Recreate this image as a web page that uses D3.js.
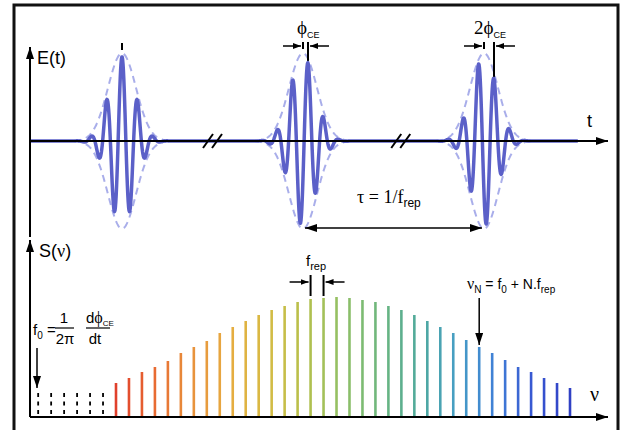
<!DOCTYPE html>
<html><head><meta charset="utf-8">
<script src="https://cdn.jsdelivr.net/npm/d3@7"></script>
<style>html,body{margin:0;padding:0;background:#fff}svg{display:block}</style>
</head><body>
<script>
// ---------- data ----------
const pulseTimes = [0, 1, 2];          // pulse centres in units of tau
const pulsePhaseSteps = [0, 1, 2];     // carrier-envelope phase in units of phi_CE
const breakTimes = [0.5, 1.54];        // axis break positions (tau units)
const carrierPeriod = 0.0856;          // tau units
const carrierWidth = 0.0707;           // gaussian sigma (tau units)
const envelopeWidth = 0.0774;          // dashed envelope sigma
const phaseShift = 0.0276;             // carrier shift per phi_CE (tau units)
const carrierAmp = 0.98, envelopeAmp = 1.02;

const combIndex = d3.range(0, 36);
const combValues = [34,39,45,50,56,64,70,76,84,90,96,102,107,111,115,118,119,120,119,117,115,111,107,102,96,90,84,77,70,64,57,50,45,39,34,29];
const hiddenComb = [-6,-5,-4,-3,-2,-1];
const hiddenValue = 24;
const combColors = ["#e0402c","#e86a32","#e8923c","#e6ac40","#d6bc44","#b4c04c","#90c066","#6cb67e","#50aa9c","#469ec4","#4080d6","#3858d2","#3040c4"];
const repArrowIdx = [15, 16];
const nuNIdx = 28;

// ---------- layout ----------
const W = 623, H = 430;
const axX = 30, topY = 141, botY = 417, arrowEnd = 608;
const svg = d3.select("body").append("svg").attr("width", W).attr("height", H);
const defs = svg.append("defs");
defs.append("marker").attr("id","ah").attr("viewBox","0 0 12 8").attr("refX",12).attr("refY",4)
  .attr("markerWidth",12).attr("markerHeight",8).attr("markerUnits","userSpaceOnUse").attr("orient","auto-start-reverse")
  .append("path").attr("d","M0,0L12,4L0,8Z").attr("fill","#000");
defs.append("marker").attr("id","sh").attr("viewBox","0 0 8 6").attr("refX",8).attr("refY",3)
  .attr("markerWidth",8).attr("markerHeight",6).attr("markerUnits","userSpaceOnUse").attr("orient","auto-start-reverse")
  .append("path").attr("d","M0,0L8,3L0,6Z").attr("fill","#000");

const SANS = "'Liberation Sans', Arial, sans-serif";
const SERIF = "'Liberation Serif', 'Times New Roman', serif";

// frame
svg.append("rect").attr("x",14).attr("y",5).attr("width",604).attr("height",450)
  .attr("fill","none").attr("stroke","#111").attr("stroke-width",3);

// ---------- top panel ----------
const xT = d3.scaleLinear().domain([0, 2]).range([122, 484]);
const yE = d3.scaleLinear().domain([-1, 1]).range([topY + 86, topY - 86]);
const gauss = (d, s) => Math.exp(-d*d/(2*s*s));
const field = t => d3.sum(pulseTimes, (tc, i) => carrierAmp * gauss(t - tc, carrierWidth) *
  Math.cos(2*Math.PI*(t - tc - pulsePhaseSteps[i]*phaseShift)/carrierPeriod));

const tSamples = d3.range(xT.invert(31), xT.invert(578), (xT.invert(1)-xT.invert(0))*0.4);
const line = d3.line().x(d => xT(d[0])).y(d => yE(d[1]));

// envelopes
pulseTimes.forEach(tc => {
  const ts = d3.range(tc - 0.33, tc + 0.33, 0.002);
  [1, -1].forEach(sg => {
    svg.append("path").attr("d", line(ts.map(t => [t, sg*envelopeAmp*gauss(t - tc, envelopeWidth)])))
      .attr("fill","none").attr("stroke","#a9aeea").attr("stroke-width",2).attr("stroke-dasharray","7,5");
  });
});
// carrier
svg.append("path").attr("d", line(tSamples.map(t => [t, field(t)])))
  .attr("fill","none").attr("stroke","#5b60c8").attr("stroke-width",3.5).attr("stroke-linejoin","round");

// axes
svg.append("line").attr("x1",axX).attr("y1",topY).attr("x2",arrowEnd).attr("y2",topY)
  .attr("stroke","#000").attr("stroke-width",2).attr("marker-end","url(#ah)");
svg.append("line").attr("x1",axX).attr("y1",237).attr("x2",axX).attr("y2",47)
  .attr("stroke","#000").attr("stroke-width",2).attr("marker-end","url(#ah)");
// breaks
breakTimes.forEach(bt => {
  const cx = xT(bt);
  [-4.5, 4.5].forEach(o => svg.append("line").attr("x1",cx+o-5).attr("y1",148).attr("x2",cx+o+5).attr("y2",134)
    .attr("stroke","#000").attr("stroke-width",2));
});
svg.append("text").attr("x",37).attr("y",64).attr("font-family",SANS).attr("font-size",18).text("E(t)");
svg.append("text").attr("x",587).attr("y",127).attr("font-family",SANS).attr("font-size",18).text("t");

// phase markers
const peakX = i => xT(pulseTimes[i] + pulsePhaseSteps[i]*phaseShift);
const peakY = i => yE(field(pulseTimes[i] + pulsePhaseSteps[i]*phaseShift));
svg.append("line").attr("x1",xT(pulseTimes[0])).attr("x2",xT(pulseTimes[0])).attr("y1",43).attr("y2",50)
  .attr("stroke","#000").attr("stroke-width",2);
[1, 2].forEach(i => {
  const c = xT(pulseTimes[i]), p = peakX(i);
  svg.append("line").attr("x1",c).attr("x2",c).attr("y1",42).attr("y2",49).attr("stroke","#000").attr("stroke-width",2);
  svg.append("line").attr("x1",p).attr("x2",p).attr("y1",42).attr("y2",peakY(i)-2).attr("stroke","#000").attr("stroke-width",2);
  svg.append("line").attr("x1",c-20).attr("x2",c-2).attr("y1",46).attr("y2",46).attr("stroke","#000").attr("stroke-width",1.5).attr("marker-end","url(#sh)");
  svg.append("line").attr("x1",p+21).attr("x2",p+2).attr("y1",46).attr("y2",46).attr("stroke","#000").attr("stroke-width",1.5).attr("marker-end","url(#sh)");
});
const phiLab = (x, pre) => {
  const t = svg.append("text").attr("x",x).attr("y",34).attr("font-family",SERIF).attr("font-size",19);
  if (pre) t.append("tspan").text(pre);
  t.append("tspan").text("ϕ");
  t.append("tspan").attr("font-family",SANS).attr("font-size",9).attr("dy",4).text("CE");
};
phiLab(xT(1) - 6, "");
phiLab(xT(2) - 10, "2");

// tau arrow
svg.append("line").attr("x1",xT(1)+2).attr("x2",xT(2)-2).attr("y1",228).attr("y2",228)
  .attr("stroke","#000").attr("stroke-width",1.5).attr("marker-start","url(#ah)").attr("marker-end","url(#ah)");
const tau = svg.append("text").attr("x",357).attr("y",203).attr("font-family",SERIF).attr("font-size",18);
tau.append("tspan").text("τ = 1/f");
tau.append("tspan").attr("font-family",SANS).attr("font-size",12).attr("dy",4).text("rep");

// ---------- bottom panel ----------
const xS = d3.scaleLinear().domain([0, 35]).range([116, 570]);
const yS = d3.scaleLinear().domain([0, 120]).range([botY, 297]);
const col = d3.scaleLinear().domain(combColors.map((c,i) => i*35/(combColors.length-1))).range(combColors).interpolate(d3.interpolateRgb);

svg.selectAll(".comb").data(combIndex).enter().append("line")
  .attr("x1", d => xS(d)).attr("x2", d => xS(d)).attr("y1", botY).attr("y2", d => yS(combValues[d]))
  .attr("stroke", d => col(d)).attr("stroke-width", 2.6);
svg.selectAll(".hid").data(hiddenComb).enter().append("line")
  .attr("x1", d => xS(d)).attr("x2", d => xS(d)).attr("y1", yS(hiddenValue)).attr("y2", botY)
  .attr("stroke","#000").attr("stroke-width",1.8).attr("stroke-dasharray","4,4.5");

svg.append("line").attr("x1",axX).attr("y1",botY).attr("x2",arrowEnd).attr("y2",botY)
  .attr("stroke","#000").attr("stroke-width",2).attr("marker-end","url(#ah)");
svg.append("line").attr("x1",axX).attr("y1",botY).attr("x2",axX).attr("y2",240)
  .attr("stroke","#000").attr("stroke-width",2).attr("marker-end","url(#ah)");

const S = svg.append("text").attr("x",39).attr("y",257).attr("font-family",SANS).attr("font-size",18);
S.append("tspan").text("S(");
S.append("tspan").attr("font-family",SERIF).text("ν");
S.append("tspan").text(")");
svg.append("text").attr("x",590).attr("y",401).attr("font-family",SERIF).attr("font-size",20).text("ν");

// f_rep marker
repArrowIdx.forEach(i => svg.append("line").attr("x1",xS(i)).attr("x2",xS(i)).attr("y1",275).attr("y2",296)
  .attr("stroke","#000").attr("stroke-width",2));
svg.append("line").attr("x1",xS(repArrowIdx[0])-21).attr("x2",xS(repArrowIdx[0])-2).attr("y1",282).attr("y2",282)
  .attr("stroke","#000").attr("stroke-width",1.5).attr("marker-end","url(#sh)");
svg.append("line").attr("x1",xS(repArrowIdx[1])+21).attr("x2",xS(repArrowIdx[1])+2).attr("y1",282).attr("y2",282)
  .attr("stroke","#000").attr("stroke-width",1.5).attr("marker-end","url(#sh)");
const fr = svg.append("text").attr("x",306).attr("y",266).attr("font-family",SANS).attr("font-size",15);
fr.append("tspan").text("f");
fr.append("tspan").attr("font-size",11).attr("dy",4).text("rep");

// nu_N
svg.append("line").attr("x1",xS(nuNIdx)).attr("x2",xS(nuNIdx)).attr("y1",298).attr("y2",yS(combValues[nuNIdx])-2)
  .attr("stroke","#000").attr("stroke-width",1.5).attr("marker-end","url(#ah)");
const nn = svg.append("text").attr("x",467).attr("y",289).attr("font-family",SANS).attr("font-size",14);
nn.append("tspan").attr("font-family",SERIF).attr("font-size",16).text("ν");
nn.append("tspan").attr("font-size",10).attr("dy",4).text("N");
nn.append("tspan").attr("dy",-4).text(" = f");
nn.append("tspan").attr("font-size",10).attr("dy",4).text("0");
nn.append("tspan").attr("dy",-4).text(" + N.f");
nn.append("tspan").attr("font-size",10).attr("dy",4).text("rep");

// f0 formula
const f0 = svg.append("text").attr("x",33).attr("y",335).attr("font-family",SANS).attr("font-size",15);
f0.append("tspan").text("f");
f0.append("tspan").attr("font-size",10).attr("dy",4).text("0");
f0.append("tspan").attr("dy",-4).text(" =");
svg.append("text").attr("x",64).attr("y",323).attr("text-anchor","middle").attr("font-family",SANS).attr("font-size",15).text("1");
svg.append("line").attr("x1",55).attr("x2",74).attr("y1",328).attr("y2",328).attr("stroke","#000").attr("stroke-width",1.2);
svg.append("text").attr("x",65).attr("y",344).attr("text-anchor","middle").attr("font-family",SANS).attr("font-size",15).text("2π");
const dp = svg.append("text").attr("x",86).attr("y",323).attr("font-family",SANS).attr("font-size",15);
dp.append("tspan").text("d");
dp.append("tspan").attr("font-family",SERIF).attr("font-size",16).text("ϕ");
dp.append("tspan").attr("font-size",8).attr("dy",3).text("CE");
svg.append("line").attr("x1",86).attr("x2",110).attr("y1",328).attr("y2",328).attr("stroke","#000").attr("stroke-width",1.2);
svg.append("text").attr("x",95).attr("y",344).attr("text-anchor","middle").attr("font-family",SANS).attr("font-size",15).text("dt");
svg.append("line").attr("x1",37).attr("x2",37).attr("y1",348).attr("y2",388)
  .attr("stroke","#000").attr("stroke-width",1.5).attr("marker-end","url(#ah)");
</script>
</body></html>
